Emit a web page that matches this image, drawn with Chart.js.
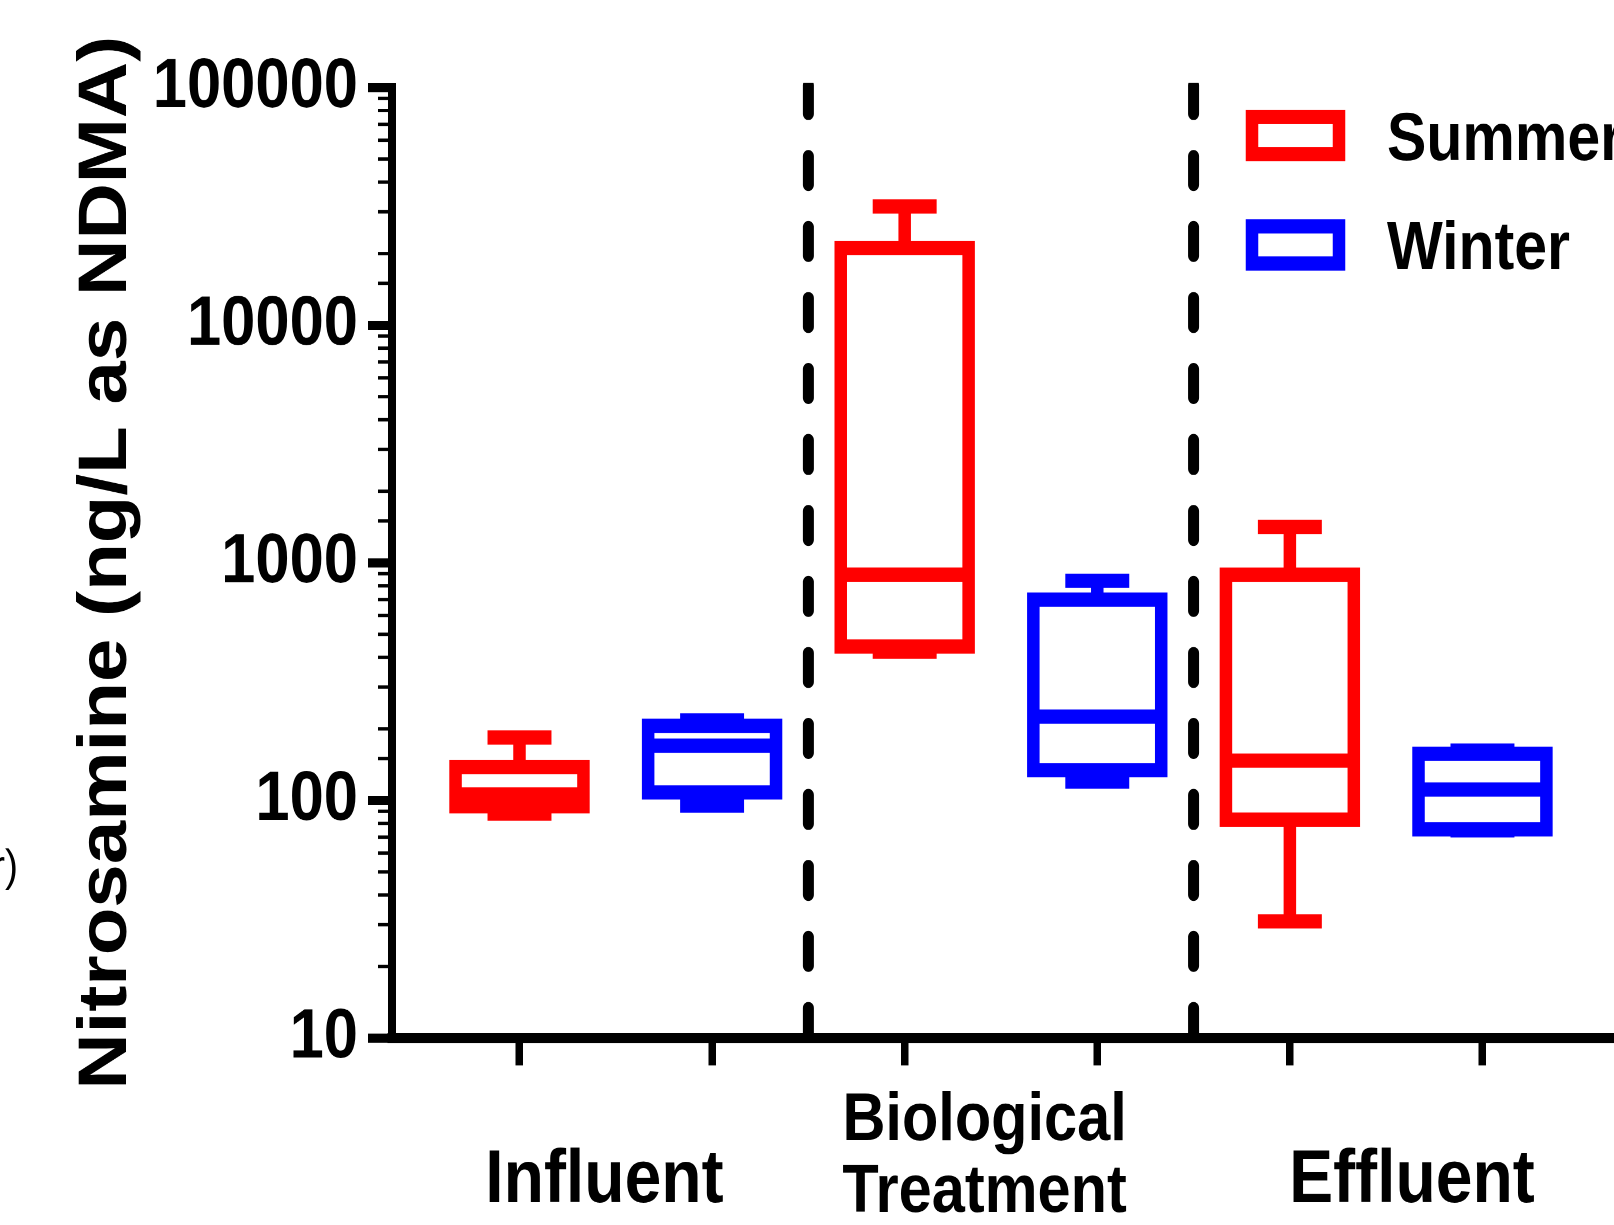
<!DOCTYPE html>
<html>
<head>
<meta charset="utf-8">
<script src="https://cdn.jsdelivr.net/npm/chart.js@4.4.1/dist/chart.umd.min.js"></script>
<style>
  html { margin: 0; padding: 0; background: #ffffff; overflow: hidden; }
  body { margin: 0; padding: 0; background: #ffffff; width: 1614px; height: 1225px; }
  #wrap { width: 1614px; height: 1075px; transform: scaleY(1.139535); transform-origin: 0 0; }
  canvas { display: block; }
</style>
</head>
<body>
<div id="wrap"><canvas id="c" width="1614" height="1075"></canvas></div>
<script>
// ---------------- data ----------------
const groups = [['Influent'], ['Biological', 'Treatment'], ['Effluent']];
const seasons = ['Summer', 'Winter'];
const seasonColors = ['#ff0000', '#0000ff'];

const summerMin    = [88,   423,   31];
const summerQ1     = [94.5, 444,   83];
const summerMedian = [106,  891,   147];
const summerQ3     = [138,  21100, 891];
const summerMax    = [184,  31600, 1416];

const winterMin    = [95,   120,   74.8];
const winterQ1     = [108,  134,   75.5];
const winterMedian = [170,  225,   111];
const winterQ3     = [206,  700,   157];
const winterMax    = [217,  840,   162];

const yTickLabels = ['10', '100', '1000', '10000', '100000'];
const yTitle = 'Nitrosamine (ng/L as NDMA)';
const strayText = 'r)';

// ---------------- styling / layout ----------------
const FONT = "'Liberation Sans', Arial, Helvetica, sans-serif";
const BOX_HALF = 0.332;   // in x units
const CAP_HALF = 0.166;
const LW = 12.5;
const groupLabelPos = [1.441, 3.415, 5.634];

const stats = [
  { min: summerMin, q1: summerQ1, med: summerMedian, q3: summerQ3, max: summerMax },
  { min: winterMin, q1: winterQ1, med: winterMedian, q3: winterQ3, max: winterMax }
];

function isDecade(v) {
  const l = Math.log10(v);
  return Math.abs(l - Math.round(l)) < 1e-9;
}
function xPos(gi, si) { return gi * seasons.length + si + 1; }

const boxPlugin = {
  id: 'boxes',
  beforeDraw(chart) {
    const c = chart.ctx;
    c.save();
    c.fillStyle = '#ffffff';
    c.fillRect(0, 0, chart.width, chart.height);
    c.restore();
  },
  afterDatasetsDraw(chart) {
    const { ctx, chartArea, scales: { x, y } } = chart;
    // dashed group separators
    ctx.save();
    ctx.beginPath();
    ctx.rect(0, chartArea.top - 4, chart.width, chartArea.bottom - chartArea.top + 4);
    ctx.clip();
    ctx.strokeStyle = '#000';
    ctx.lineWidth = 11;
    ctx.lineCap = 'round';
    ctx.setLineDash([25, 37.3]);
    for (let g = 1; g < groups.length; g++) {
      const px = x.getPixelForValue(g * seasons.length + 0.5);
      ctx.beginPath();
      ctx.moveTo(px, chartArea.top - 2);
      ctx.lineTo(px, chartArea.bottom - 1);
      ctx.stroke();
    }
    ctx.restore();

    // box plots
    ctx.save();
    ctx.lineWidth = LW;
    ctx.lineCap = 'butt';
    ctx.lineJoin = 'miter';
    seasons.forEach((s, si) => {
      ctx.strokeStyle = seasonColors[si];
      const st = stats[si];
      groups.forEach((g, gi) => {
        const xv = xPos(gi, si);
        const L = x.getPixelForValue(xv - BOX_HALF);
        const R = x.getPixelForValue(xv + BOX_HALF);
        const C = x.getPixelForValue(xv);
        const cl = x.getPixelForValue(xv - CAP_HALF);
        const cr = x.getPixelForValue(xv + CAP_HALF);
        const yMin = y.getPixelForValue(st.min[gi]);
        const yQ1 = y.getPixelForValue(st.q1[gi]);
        const yMed = y.getPixelForValue(st.med[gi]);
        const yQ3 = y.getPixelForValue(st.q3[gi]);
        const yMax = y.getPixelForValue(st.max[gi]);
        ctx.beginPath();
        ctx.moveTo(C, yQ3); ctx.lineTo(C, yMax);
        ctx.moveTo(cl, yMax); ctx.lineTo(cr, yMax);
        ctx.moveTo(C, yQ1); ctx.lineTo(C, yMin);
        ctx.moveTo(cl, yMin); ctx.lineTo(cr, yMin);
        ctx.stroke();
        ctx.strokeRect(L, yQ3, R - L, yQ1 - yQ3);
        ctx.beginPath();
        ctx.moveTo(L, yMed); ctx.lineTo(R, yMed);
        ctx.stroke();
      });
    });
    ctx.restore();
  },
  afterDraw(chart) {
    const { ctx, chartArea, scales: { x, y } } = chart;
    // minor ticks (shorter than the decade ticks)
    ctx.save();
    ctx.strokeStyle = '#000';
    ctx.lineWidth = 3;
    y.ticks.forEach(t => {
      if (!isDecade(t.value)) {
        const py = y.getPixelForValue(t.value);
        ctx.beginPath();
        ctx.moveTo(chartArea.left - 14, py);
        ctx.lineTo(chartArea.left, py);
        ctx.stroke();
      }
    });
    ctx.restore();

    // group labels under the x axis
    ctx.save();
    ctx.fillStyle = '#000';
    ctx.textAlign = 'center';
    ctx.textBaseline = 'alphabetic';
    groups.forEach((lines, gi) => {
      const px = x.getPixelForValue(groupLabelPos[gi]);
      if (lines.length === 1) {
        ctx.font = 'bold 66px ' + FONT;
        ctx.fillText(lines[0], px, 1054.8);
      } else {
        ctx.font = 'bold 59.5px ' + FONT;
        ctx.fillText(lines[0], px, 1000.4);
        ctx.fillText(lines[1], px, 1063.6);
      }
    });
    ctx.restore();

    // legend
    ctx.save();
    ctx.lineWidth = LW;
    ctx.lineJoin = 'miter';
    ctx.textAlign = 'left';
    ctx.textBaseline = 'alphabetic';
    ctx.font = 'bold 59px ' + FONT;
    const legTops = [102.7, 198.6];
    const legBase = [140.4, 236.1];
    seasons.forEach((s, si) => {
      ctx.strokeStyle = seasonColors[si];
      ctx.strokeRect(1252, legTops[si], 87, 32.6);
      ctx.fillStyle = '#000';
      ctx.fillText(s, 1387, legBase[si]);
    });
    ctx.restore();

    // fragment of neighbouring panel text at the left edge
    ctx.save();
    ctx.fillStyle = '#000';
    ctx.font = '39px ' + FONT;
    ctx.textAlign = 'right';
    ctx.textBaseline = 'alphabetic';
    ctx.fillText(strayText, 18, 773);
    ctx.restore();
  }
};

const xTickValues = [];
groups.forEach((g, gi) => seasons.forEach((s, si) => xTickValues.push(xPos(gi, si))));

new Chart(document.getElementById('c'), {
  type: 'scatter',
  data: {
    datasets: seasons.map((s, si) => ({
      label: s,
      data: groups.map((g, gi) => ({ x: xPos(gi, si), y: stats[si].med[gi] })),
      pointRadius: 0,
      pointHoverRadius: 0,
      borderColor: seasonColors[si],
      backgroundColor: 'rgba(0,0,0,0)',
      showLine: false
    }))
  },
  options: {
    responsive: false,
    animation: false,
    devicePixelRatio: 2,
    events: [],
    layout: { padding: { top: 76.8, left: 66, right: 0, bottom: 0 } },
    plugins: { legend: { display: false }, tooltip: { enabled: false } },
    scales: {
      x: {
        type: 'linear',
        position: 'bottom',
        min: 0.338,
        max: 6.683,
        border: { display: true, width: 9, color: '#000' },
        grid: { display: true, drawOnChartArea: false, drawTicks: true, tickLength: 24, tickWidth: 7.5, tickColor: '#000', lineWidth: 7.5 },
        ticks: { display: false },
        afterBuildTicks: (s) => { s.ticks = xTickValues.map(v => ({ value: v })); },
        afterFit: (s) => { s.height = 1075 - 910.9; }
      },
      y: {
        type: 'logarithmic',
        position: 'left',
        min: 10,
        max: 100000,
        border: { display: true, width: 8, color: '#000' },
        grid: {
          display: true, drawOnChartArea: false, drawTicks: true, tickLength: 24, tickWidth: 8, lineWidth: 8,
          tickColor: (ctx) => (ctx.tick && isDecade(ctx.tick.value)) ? '#000' : 'rgba(0,0,0,0)'
        },
        ticks: {
          autoSkip: false,
          padding: 10,
          color: '#000',
          font: { family: FONT, size: 61.5, weight: 'bold' },
          callback: (v) => isDecade(v) ? yTickLabels[Math.round(Math.log10(v)) - 1] : ''
        },
        title: {
          display: true,
          text: yTitle,
          color: '#000',
          padding: 0,
          font: { family: FONT, size: 68.5, weight: 'bold' }
        },
        afterFit: (s) => { s.width = 392 - 66; }
      }
    }
  },
  plugins: [boxPlugin]
});
</script>
</body>
</html>
